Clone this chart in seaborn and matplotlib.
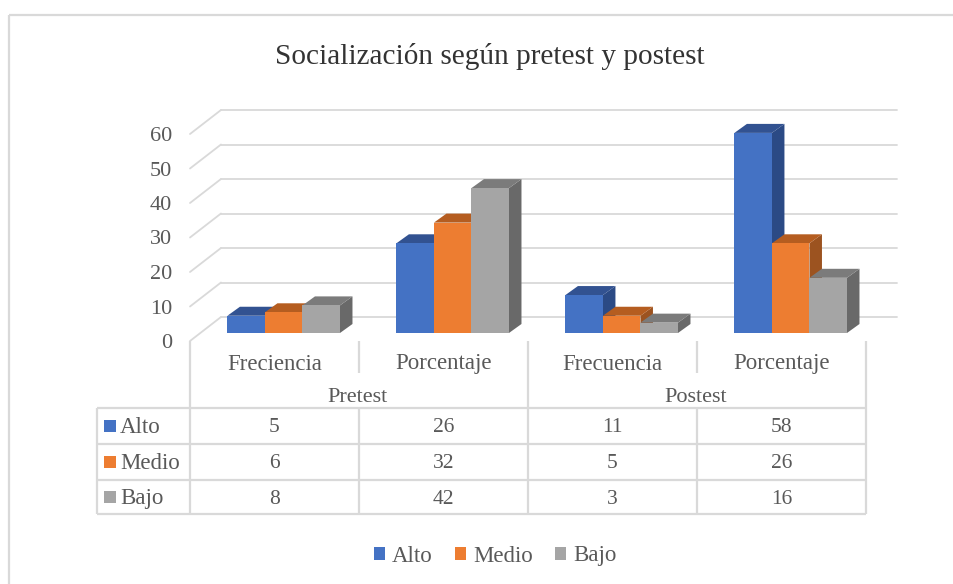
import matplotlib
matplotlib.use('Agg')
import matplotlib.pyplot as plt
import pandas as pd
import seaborn as sns
from matplotlib.patches import Polygon, Rectangle

# datos de la tabla
grupos = ['Pretest', 'Postest']
categorias = ['Freciencia', 'Porcentaje', 'Frecuencia', 'Porcentaje']
niveles = ['Alto', 'Medio', 'Bajo']
alto = [5, 26, 11, 58]
medio = [6, 32, 5, 26]
bajo = [8, 42, 3, 16]
y_ticks = [0, 10, 20, 30, 40, 50, 60]

colores = ['#4472C4', '#ED7D31', '#A5A5A5']
color_tapa = ['#325291', '#B55D20', '#7B7B7B']
color_lado = ['#2B4A85', '#9C5320', '#696969']
gris = '#595959'
linea = '#D9D9D9'
W, H = 954, 584

sns.set_theme(style='white')
plt.rcParams['font.family'] = ['Liberation Serif', 'DejaVu Serif']

# tabla larga para seaborn, la clave evita repetir "Porcentaje"
claves = ['c%d' % i for i in range(len(categorias))]
filas = []
for nivel, valores in zip(niveles, [alto, medio, bajo]):
    for clave, v in zip(claves, valores):
        filas.append({'clave': clave, 'nivel': nivel, 'valor': v})
df = pd.DataFrame(filas)

fig = plt.figure(figsize=(W / 100, H / 100), dpi=100, facecolor='white')

# capa en pixeles para marco y tabla
capa = fig.add_axes([0, 0, 1, 1], zorder=0)
capa.set_xlim(0, W)
capa.set_ylim(H, 0)
capa.axis('off')


def px(x0, y0, x1, y1, lw=1.6):
    capa.plot([x0, x1], [y0, y1], color=linea, lw=lw, solid_capstyle='butt')


# marco del grafico
px(9, 15, W, 15, 1.6)
px(9, 15, 9, H, 1.6)

# pared: eje y real en el plano frontal
pared = fig.add_axes([190 / W, (H - 341) / H, 676 / W, 207 / H], zorder=1)
pared.set_xlim(0, 676)
pared.set_ylim(0, 60)
pared.patch.set_alpha(0)
sns.despine(ax=pared, left=True, bottom=True)
pared.set_xticks([])
pared.set_yticks(y_ticks)
pared.tick_params(axis='y', length=0, pad=13, labelsize=16, labelcolor=gris)
for v in y_ticks:
    # lineas del fondo y su diagonal hasta el frente
    fondo = v + 24 / 3.45
    pared.plot([31, 707], [fondo, fondo], color=linea, lw=1.3, clip_on=False)
    pared.plot([0, 31], [v, fondo], color=linea, lw=1.3, clip_on=False)

# barras con seaborn
ax = fig.add_axes([199.2 / W, (H - 333) / H, 676 / W, 207 / H], zorder=2)
sns.barplot(data=df, x='clave', y='valor', hue='nivel', order=claves, hue_order=niveles,
            palette=colores, saturation=1, width=0.666, gap=0, linewidth=0, ax=ax)
ax.set_xlim(-0.5, 3.5)
ax.set_ylim(0, 60)
ax.patch.set_alpha(0)
ax.set_xticks([])
ax.set_yticks([])
ax.set_xlabel('')
ax.set_ylabel('')
sns.despine(ax=ax, left=True, bottom=True)

# profundidad de cada barra, de izquierda a derecha para tapar bien
dx = 12.5 / 169
dy = 9 / 3.45
z = 3
for i in range(len(claves)):
    for j, cont in enumerate(ax.containers):
        b = cont[i]
        x0, x1, y1 = b.get_x(), b.get_x() + b.get_width(), b.get_height()
        lado = Polygon([(x1, 0), (x1 + dx, dy), (x1 + dx, y1 + dy), (x1, y1)],
                       facecolor=color_lado[j], edgecolor='none', clip_on=False, zorder=z)
        tapa = Polygon([(x0, y1), (x0 + dx, y1 + dy), (x1 + dx, y1 + dy), (x1, y1)],
                       facecolor=color_tapa[j], edgecolor='none', clip_on=False, zorder=z)
        ax.add_patch(lado)
        ax.add_patch(tapa)
        b.set_zorder(z + 1)
        b.set_clip_on(False)
        z += 2

sns.move_legend(ax, 'center', bbox_to_anchor=(495 / W, (H - 556) / H), bbox_transform=fig.transFigure,
                ncols=3, frameon=False, title=None, fontsize=16.5, labelcolor=gris,
                handlelength=0.5, handleheight=0.5, handletextpad=0.3, columnspacing=0.95)

# titulo
capa.text(490, 56, 'Socialización según pretest y postest', ha='center', va='center',
          fontsize=21.1, color='#333333')

# tabla de datos
cols = [190, 359, 528, 697, 866]
filas_y = [408, 444, 480, 514]
for y in filas_y:
    px(97, y, 866, y)
for x in [97, 190, 359, 528, 697, 866]:
    px(x, filas_y[0], x, filas_y[-1])
px(190, 341, 190, 408)
px(528, 341, 528, 408)
px(866, 341, 866, 408)
px(359, 341, 359, 373)
px(697, 341, 697, 373)

for k, cat in enumerate(categorias):
    centro = (cols[k] + cols[k + 1]) / 2
    capa.text(centro, 364, cat, ha='center', va='center', fontsize=16.5, color=gris)
capa.text(358, 397, grupos[0], ha='center', va='center', fontsize=16, color=gris)
capa.text(696, 397, grupos[1], ha='center', va='center', fontsize=16, color=gris)

for f, (nivel, valores) in enumerate(zip(niveles, [alto, medio, bajo])):
    yc = (filas_y[f] + filas_y[f + 1]) / 2
    capa.add_patch(Rectangle((104, yc - 6), 12, 12, facecolor=colores[f], edgecolor='none'))
    capa.text(120, yc + 1.5, nivel, ha='left', va='center', fontsize=16.5, color=gris)
    for k, v in enumerate(valores):
        centro = (cols[k] + cols[k + 1]) / 2
        capa.text(centro, yc + 2, str(v), ha='center', va='center', fontsize=15.5, color=gris)

fig.savefig('out.png', dpi=100, facecolor='white')
